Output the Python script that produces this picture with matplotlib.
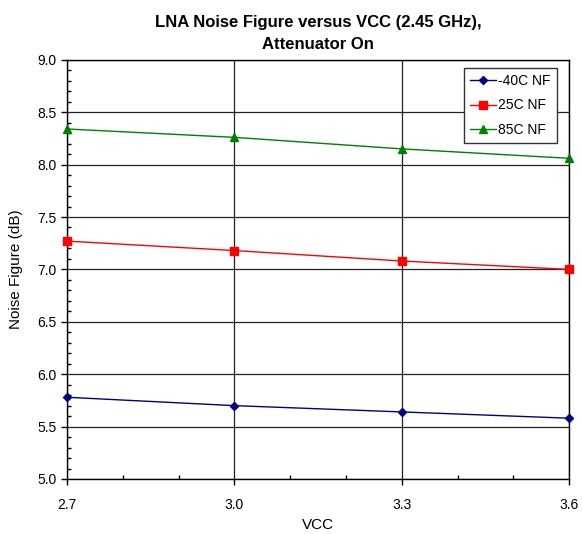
import matplotlib
matplotlib.use('Agg')
import matplotlib.pyplot as plt
from matplotlib.ticker import MultipleLocator

plt.rcParams['font.family'] = ['Liberation Sans', 'DejaVu Sans']

vcc = [2.7, 3.0, 3.3, 3.6]
nf_m40 = [5.78, 5.70, 5.64, 5.58]
nf_25 = [7.27, 7.18, 7.08, 7.00]
nf_85 = [8.34, 8.26, 8.15, 8.06]

fig = plt.figure(figsize=(5.82, 5.34), dpi=100)
ax = fig.add_axes([0.115, 0.103, 0.863, 0.785])

ax.plot(vcc, nf_m40, color='#000080', marker='D', markersize=4.5, lw=1, label='-40C NF', clip_on=False, zorder=3)
ax.plot(vcc, nf_25, color='#FF0000', marker='s', markersize=5.5, lw=1, label='25C NF', clip_on=False, zorder=3)
ax.plot(vcc, nf_85, color='#008000', marker='^', markersize=6, lw=1, label='85C NF', clip_on=False, zorder=3)

ax.set_xlim(2.7, 3.6)
ax.set_ylim(5.0, 9.0)
ax.xaxis.set_major_locator(MultipleLocator(0.3))
ax.xaxis.set_minor_locator(MultipleLocator(0.1))
ax.yaxis.set_major_locator(MultipleLocator(0.5))
ax.yaxis.set_minor_locator(MultipleLocator(0.1))
ax.xaxis.set_major_formatter(plt.FormatStrFormatter('%.1f'))
ax.yaxis.set_major_formatter(plt.FormatStrFormatter('%.1f'))
ax.tick_params(which='major', direction='out', length=4, labelsize=10, width=1)
ax.tick_params(axis='x', which='major', pad=10)
ax.tick_params(which='minor', direction='in', length=3, width=1)
ax.grid(True, which='major', color='#222222', lw=0.9)
ax.set_axisbelow(True)
for s in ax.spines.values():
    s.set_linewidth(1)

ax.set_xlabel('VCC', fontsize=11)
ax.set_ylabel('Noise Figure (dB)', fontsize=11, labelpad=10)
ax.set_title('LNA Noise Figure versus VCC (2.45 GHz),\nAttenuator On', fontsize=12, fontweight='bold',
             pad=8, linespacing=1.55)

leg = ax.legend(loc='upper right', bbox_to_anchor=(0.976, 0.981), borderaxespad=0, fancybox=False,
                edgecolor='#333333', framealpha=1, fontsize=10, borderpad=0.45, labelspacing=0.75,
                handlelength=1.9, handletextpad=0.15)
leg.get_frame().set_linewidth(1)

fig.savefig('out.png', dpi=100)
